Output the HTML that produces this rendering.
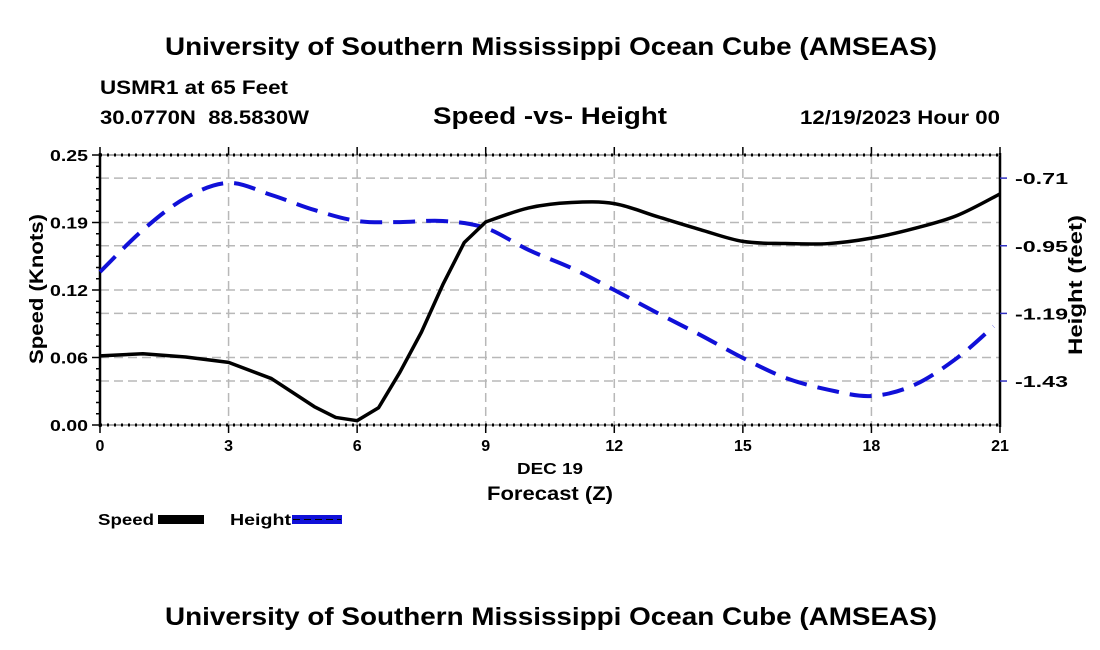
<!DOCTYPE html>
<html><head><meta charset="utf-8"><style>
html,body{margin:0;padding:0;background:#fff;width:1100px;height:650px;overflow:hidden}
svg{display:block;font-family:"Liberation Sans",sans-serif;font-weight:bold}
</style></head><body>
<svg id="chart" width="1100" height="650" viewBox="0 0 1100 650" xmlns="http://www.w3.org/2000/svg">
<text x="165" y="55" font-size="25" textLength="772" lengthAdjust="spacingAndGlyphs">University of Southern Mississippi Ocean Cube (AMSEAS)</text>
<text x="100" y="94" font-size="19" textLength="188" lengthAdjust="spacingAndGlyphs">USMR1 at 65 Feet</text>
<text x="100" y="124" font-size="19" textLength="209" lengthAdjust="spacingAndGlyphs" xml:space="preserve">30.0770N  88.5830W</text>
<text x="433" y="124" font-size="24" textLength="234" lengthAdjust="spacingAndGlyphs">Speed -vs- Height</text>
<text x="800" y="124" font-size="19" textLength="200" lengthAdjust="spacingAndGlyphs">12/19/2023 Hour 00</text>
<g id="grid"></g>
<g id="axes"></g>
<g id="series"></g>
<text font-size="19" text-anchor="middle" textLength="150" lengthAdjust="spacingAndGlyphs" transform="translate(43,289) rotate(-90)">Speed (Knots)</text>
<text font-size="19" text-anchor="middle" textLength="140" lengthAdjust="spacingAndGlyphs" transform="translate(1082,285) rotate(-90)">Height (feet)</text>
<text x="517" y="474" font-size="16" textLength="66" lengthAdjust="spacingAndGlyphs">DEC 19</text>
<text x="487" y="500" font-size="19" textLength="126" lengthAdjust="spacingAndGlyphs">Forecast (Z)</text>
<g>
<g>
<text x="98" y="525" font-size="16" textLength="56" lengthAdjust="spacingAndGlyphs">Speed</text>
<rect x="158" y="515" width="46" height="9" fill="#000"/>
</g>
<g>
<text x="230" y="525" font-size="16" textLength="61" lengthAdjust="spacingAndGlyphs">Height</text>
<rect x="292" y="515" width="50" height="9" fill="#1010d8"/>
<line x1="293" y1="519.5" x2="341" y2="519.5" stroke="#000" stroke-width="1" stroke-dasharray="7,4"/>
</g>
</g>
<text x="165" y="625" font-size="25" textLength="772" lengthAdjust="spacingAndGlyphs">University of Southern Mississippi Ocean Cube (AMSEAS)</text>
</svg>
<script>
const hours=[0,1,2,3,4,5,5.5,6,6.5,7,7.5,8,8.5,9,10,11,12,13,14,15,16,17,18,19,20,21];
const speed=[0.064,0.066,0.063,0.058,0.043,0.017,0.007,0.004,0.016,0.049,0.086,0.130,0.169,0.188,0.201,0.206,0.205,0.193,0.181,0.170,0.168,0.168,0.173,0.182,0.194,0.214];
const heightHours=[0,1,2,3,4,5,6,7,8,9,10,11,12,13,14,15,16,17,18,19,20,20.85];
const heightFt=[-1.043,-0.894,-0.780,-0.727,-0.770,-0.823,-0.862,-0.866,-0.862,-0.887,-0.965,-1.029,-1.107,-1.188,-1.266,-1.348,-1.419,-1.461,-1.483,-1.444,-1.348,-1.236];
const xTicks=[0,3,6,9,12,15,18,21];
const leftTicks=[0,0.0625,0.125,0.1875,0.25];
const leftTickLabels=["0.00","0.06","0.12","0.19","0.25"];
const rightTicks=[-0.71,-0.95,-1.19,-1.43];
const rightTickLabels=["-0.71","-0.95","-1.19","-1.43"];

const L=100,R=1000,T=155,B=425;
const xS=h=>L+(h-0)/(21-0)*(R-L);
const yL=v=>B-(v/0.25)*(B-T);
const hTop=-0.628,hBot=-1.586;
const yR=v=>T+(hTop-v)/(hTop-hBot)*(B-T);
const NS="http://www.w3.org/2000/svg";
function mk(tag,attrs,parent){const e=document.createElementNS(NS,tag);for(const k in attrs)e.setAttribute(k,attrs[k]);parent.appendChild(e);return e;}
const grid=document.getElementById('grid'),axes=document.getElementById('axes'),series=document.getElementById('series');
const gs={stroke:"#b8b8b8","stroke-width":1.5,"stroke-dasharray":"9,5",fill:"none"};
xTicks.forEach(h=>{if(h>0&&h<21){const l=mk('line',Object.assign({x1:xS(h),x2:xS(h),y1:T,y2:B},gs),grid);

}});
leftTicks.forEach(v=>{if(v>0&&v<0.25){const l=mk('line',Object.assign({x1:L,x2:R,y1:yL(v),y2:yL(v)},gs),grid);

}});
rightTicks.forEach(v=>{const l=mk('line',Object.assign({x1:L,x2:R,y1:yR(v),y2:yR(v)},gs),grid);

});
mk('line',{x1:L,x2:L,y1:T-2,y2:B+2,stroke:"#000","stroke-width":2.5},axes);
mk('line',{x1:R,x2:R,y1:T-2,y2:B+2,stroke:"#000","stroke-width":2.5},axes);
mk('line',{x1:L,x2:R,y1:T,y2:T,stroke:"#555","stroke-width":1},axes);
mk('line',{x1:L,x2:R,y1:B,y2:B,stroke:"#555","stroke-width":1},axes);
mk('line',{x1:L,x2:R,y1:T,y2:T,stroke:"#000","stroke-width":3,"stroke-dasharray":"2,5"},axes);
mk('line',{x1:L,x2:R,y1:B,y2:B,stroke:"#000","stroke-width":3,"stroke-dasharray":"2,5"},axes);
xTicks.forEach((h,i)=>{
 mk('line',{x1:xS(h),x2:xS(h),y1:B,y2:B+8,stroke:"#000","stroke-width":1.5},axes);
 mk('line',{x1:xS(h),x2:xS(h),y1:T-8,y2:T,stroke:"#000","stroke-width":1.5},axes);
 const t=mk('text',{x:xS(h),y:B+26,"font-size":16,"text-anchor":"middle"},axes);t.textContent=h;
 
 
});
for(let k=0;k<=24;k++){const v=k*0.25/24;mk('line',{x1:L-(k%6==0?8:4),x2:L,y1:yL(v),y2:yL(v),stroke:"#000","stroke-width":1.5},axes);}
leftTicks.forEach((v,i)=>{const t=mk('text',{x:L-12,y:yL(v)+6,"font-size":16,"text-anchor":"end",textLength:38,lengthAdjust:"spacingAndGlyphs"},axes);t.textContent=leftTickLabels[i];
 
 });
rightTicks.forEach((v,i)=>{mk('line',{x1:R,x2:R+7,y1:yR(v),y2:yR(v),stroke:"#3030c0","stroke-width":1.5},axes);
 const t=mk('text',{x:R+15,y:yR(v)+6,"font-size":16,textLength:53,lengthAdjust:"spacingAndGlyphs"},axes);t.textContent=rightTickLabels[i];
 
 });
function smooth(pts){let d=`M${pts[0][0]},${pts[0][1]}`;for(let i=0;i<pts.length-1;i++){const p0=pts[i-1]||pts[i],p1=pts[i],p2=pts[i+1],p3=pts[i+2]||p2;
 d+=` C${p1[0]+(p2[0]-p0[0])/6},${p1[1]+(p2[1]-p0[1])/6} ${p2[0]-(p3[0]-p1[0])/6},${p2[1]-(p3[1]-p1[1])/6} ${p2[0]},${p2[1]}`;}return d;}
const hp=mk('path',{d:smooth(heightHours.map((h,i)=>[xS(h),yR(heightFt[i])])),fill:"none",stroke:"#1010d8","stroke-width":4,"stroke-dasharray":"22,11"},series);


const spPts=hours.map((h,i)=>[xS(h),yL(speed[i])]);
const split=hours.indexOf(9);
const early=spPts.slice(0,split+1), late=spPts.slice(split);
const spD="M"+early.map(p=>p[0]+","+p[1]).join(" L")+" "+smooth(late).replace(/^M[^ ]+/,"");
const sp=mk('path',{d:spD,fill:"none",stroke:"#000","stroke-width":3.5,"stroke-linejoin":"round"},series);


</script>
</body></html>
